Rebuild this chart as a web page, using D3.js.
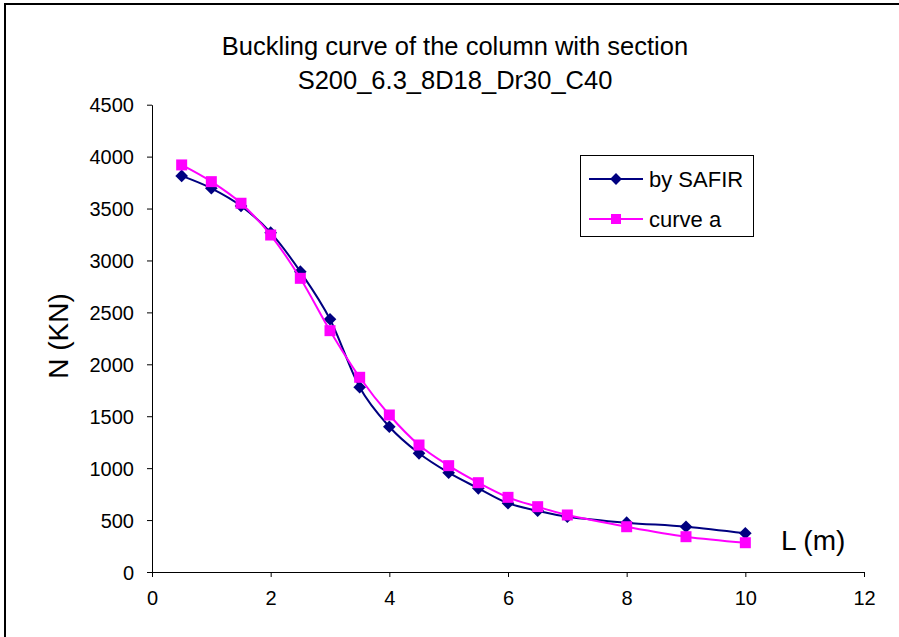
<!DOCTYPE html>
<html><head><meta charset="utf-8">
<script src="https://cdn.jsdelivr.net/npm/d3@7"></script>
<style>body{margin:0;background:#fff}svg{display:block}text{font-family:"Liberation Sans",Arial,sans-serif;fill:#000}</style>
</head><body>
<svg id="c" width="899" height="637"></svg>
<script>
const titleLines = ["Buckling curve of the column with section", "S200_6.3_8D18_Dr30_C40"];
const lengths = [0.5,1,1.5,2,2.5,3,3.5,4,4.5,5,5.5,6,6.5,7,8,9,10];
const safir  = [3814,3695,3525,3268,2892,2434,1779,1399,1143,956,806,662,590,533,475,436,373];
const curveA = [3920,3759,3551,3245,2828,2324,1875,1512,1223,1024,860,719,629,549,436,340,282];
const xTicks = [0,2,4,6,8,10,12];
const yTicks = [0,500,1000,1500,2000,2500,3000,3500,4000,4500];
const seriesNames = ["by SAFIR","curve a"];

const svg = d3.select("#c");
svg.append("rect").attr("x",5).attr("y",4).attr("width",1000).attr("height",1000)
  .attr("fill","none").attr("stroke","#000").attr("stroke-width",2);

const x = d3.scaleLinear().domain([0,12]).range([152,864]);
const y = d3.scaleLinear().domain([0,4500]).range([572,104.7]);

const xa = svg.append("g").attr("transform","translate(0,572)")
  .call(d3.axisBottom(x).tickValues(xTicks).tickFormat(d3.format("d")).tickSizeInner(5).tickSizeOuter(0).tickPadding(14));
const ya = svg.append("g").attr("transform","translate(152,0)")
  .call(d3.axisLeft(y).tickValues(yTicks).tickFormat(d3.format("d")).tickSizeInner(5).tickSizeOuter(0).tickPadding(13));
[xa,ya].forEach(g=>{
  g.select(".domain").attr("stroke","#000").attr("stroke-width",1);
  g.selectAll(".tick line").attr("stroke","#000");
  g.selectAll(".tick text").attr("font-size",20).attr("font-family","Liberation Sans, Arial, sans-serif").attr("fill","#000");
});
ya.selectAll(".tick text").attr("dy","0.36em");

svg.selectAll("text.title").data(titleLines).enter().append("text")
  .attr("x",455).attr("y",(d,i)=>55+i*34).attr("text-anchor","middle").attr("font-size",25.5).text(d=>d);

svg.append("text").attr("transform","translate(68,336) rotate(-90)").attr("text-anchor","middle")
  .attr("font-size",28).text("N (KN)");
svg.append("text").attr("x",781).attr("y",550).attr("font-size",28).text("L (m)");

const line = d3.line().curve(d3.curveCardinal.tension(0)).x(d=>x(d[0])).y(d=>y(d[1]));
const dS = lengths.map((l,i)=>[l,safir[i]]);
const dA = lengths.map((l,i)=>[l,curveA[i]]);
const navy="#000080", mag="#FF00FF";
const diamond = d3.symbol().type(d3.symbolSquare).size(80);
const square = d3.symbol().type(d3.symbolSquare).size(121);

svg.append("path").attr("d",line(dS)).attr("fill","none").attr("stroke",navy).attr("stroke-width",2);
svg.selectAll("path.ds").data(dS).enter().append("path")
  .attr("transform",d=>`translate(${x(d[0])},${y(d[1])}) rotate(45)`).attr("d",diamond).attr("fill",navy);
svg.append("path").attr("d",line(dA)).attr("fill","none").attr("stroke",mag).attr("stroke-width",2);
svg.selectAll("path.da").data(dA).enter().append("path")
  .attr("transform",d=>`translate(${x(d[0])},${y(d[1])})`).attr("d",square).attr("fill",mag);

// legend
const lg = svg.append("g");
lg.append("rect").attr("x",580.5).attr("y",155.5).attr("width",173).attr("height",81)
  .attr("fill","#fff").attr("stroke","#000").attr("stroke-width",1);
const rows=[{n:seriesNames[0],c:navy,s:d3.symbol().type(d3.symbolSquare).size(70),r:45,y:179},{n:seriesNames[1],c:mag,s:d3.symbol().type(d3.symbolSquare).size(100),r:0,y:219}];
rows.forEach(r=>{
  lg.append("line").attr("x1",589).attr("x2",643).attr("y1",r.y).attr("y2",r.y).attr("stroke",r.c).attr("stroke-width",2);
  lg.append("path").attr("transform",`translate(616,${r.y}) rotate(${r.r})`).attr("d",r.s).attr("fill",r.c);
  lg.append("text").attr("x",649).attr("y",r.y+8).attr("font-size",22).text(r.n);
});
</script>
</body></html>
